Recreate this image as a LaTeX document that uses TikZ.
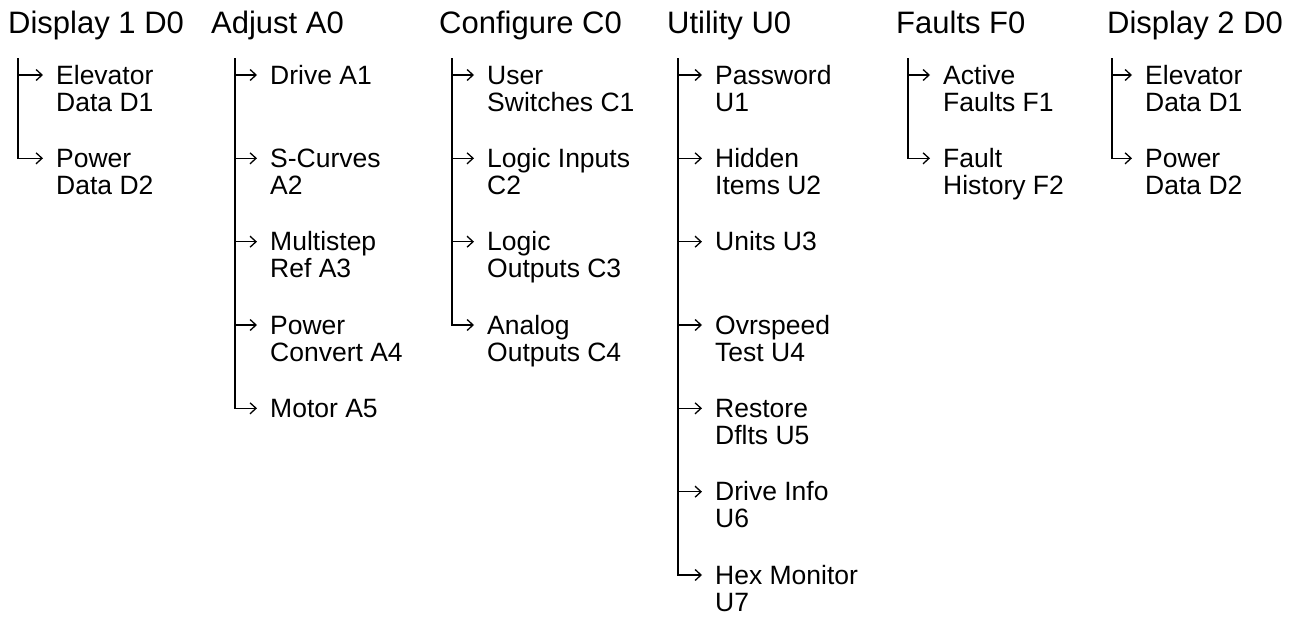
\documentclass[tikz,border=0pt]{standalone}
\usepackage{fontspec}
\setmainfont{Liberation Sans}
\usetikzlibrary{arrows.meta}

% one menu entry: name, x, baseline y, text (lines split by \\)
\newcommand\leaf[4]{%
  \node[itm] (#1) at (#2,#3) {\begin{tabular}[t]{@{}l@{}}#4\end{tabular}};
  \coordinate (#1t) at ([shift={(-13pt,9pt)}]#1.base west);}

\tikzset{
  ttl/.style={anchor=base west, inner sep=0pt, font=\fontsize{31}{36}\selectfont},
  itm/.style={anchor=base west, inner sep=0pt, font=\fontsize{26.5}{27}\selectfont},
  spine/.style={line width=1.8pt, black},
  arr/.style={line width=1.4pt, black, -{Straight Barb[length=6pt,width=11pt,line width=1.3pt]}}
}

\begin{document}
\begin{tikzpicture}[x=1pt,y=-1pt]
\path[use as bounding box] (0,0) rectangle (1292,624);

% Display 1
\node[ttl] (dA) at (8,33) {Display 1 D0};
\coordinate (dAs) at (18,58);
\leaf{dA1}{56}{84}{Elevator\\Data D1}
\leaf{dA2}{56}{167.3}{Power\\Data D2}
\draw[arr] (dAs |- dA1t) -- (dA1t);
\draw[spine,arr] (dAs) |- (dA2t);

% Adjust
\node[ttl] (aa) at (211,33) {Adjust A0};
\coordinate (aas) at (235,58);
\leaf{a1}{270}{84}{Drive A1}
\leaf{a2}{270}{167.3}{S-Curves\\A2}
\leaf{a3}{270}{250.7}{Multistep\\Ref A3}
\leaf{a4}{270}{334}{Power\\Convert A4}
\leaf{a5}{270}{417.3}{Motor A5}
\foreach \k in {1,...,4} \draw[arr] (aas |- a\k t) -- (a\k t);
\draw[spine,arr] (aas) |- (a5t);

% Configure
\node[ttl] (cc) at (439,33) {Configure C0};
\coordinate (ccs) at (452,58);
\leaf{c1}{487}{84}{User\\Switches C1}
\leaf{c2}{487}{167.3}{Logic Inputs\\C2}
\leaf{c3}{487}{250.7}{Logic\\Outputs C3}
\leaf{c4}{487}{334}{Analog\\Outputs C4}
\foreach \k in {1,...,3} \draw[arr] (ccs |- c\k t) -- (c\k t);
\draw[spine,arr] (ccs) |- (c4t);

% Utility
\node[ttl] (uu) at (667,33) {Utility U0};
\coordinate (uus) at (678,58);
\leaf{u1}{715}{84}{Password\\U1}
\leaf{u2}{715}{167.3}{Hidden\\Items U2}
\leaf{u3}{715}{250.7}{Units U3}
\leaf{u4}{715}{334}{Ovrspeed\\Test U4}
\leaf{u5}{715}{417.3}{Restore\\Dflts U5}
\leaf{u6}{715}{500.7}{Drive Info\\U6}
\leaf{u7}{715}{584}{Hex Monitor\\U7}
\foreach \k in {1,...,6} \draw[arr] (uus |- u\k t) -- (u\k t);
\draw[spine,arr] (uus) |- (u7t);

% Faults
\node[ttl] (ff) at (896,33) {Faults F0};
\coordinate (ffs) at (908,58);
\leaf{f1}{943}{84}{Active\\Faults F1}
\leaf{f2}{943}{167.3}{Fault\\History F2}
\draw[arr] (ffs |- f1t) -- (f1t);
\draw[spine,arr] (ffs) |- (f2t);

% Display 2
\node[ttl] (dB) at (1107,33) {Display 2 D0};
\coordinate (dBs) at (1112,58);
\leaf{dB1}{1145}{84}{Elevator\\Data D1}
\leaf{dB2}{1145}{167.3}{Power\\Data D2}
\draw[arr] (dBs |- dB1t) -- (dB1t);
\draw[spine,arr] (dBs) |- (dB2t);
\end{tikzpicture}
\end{document}
